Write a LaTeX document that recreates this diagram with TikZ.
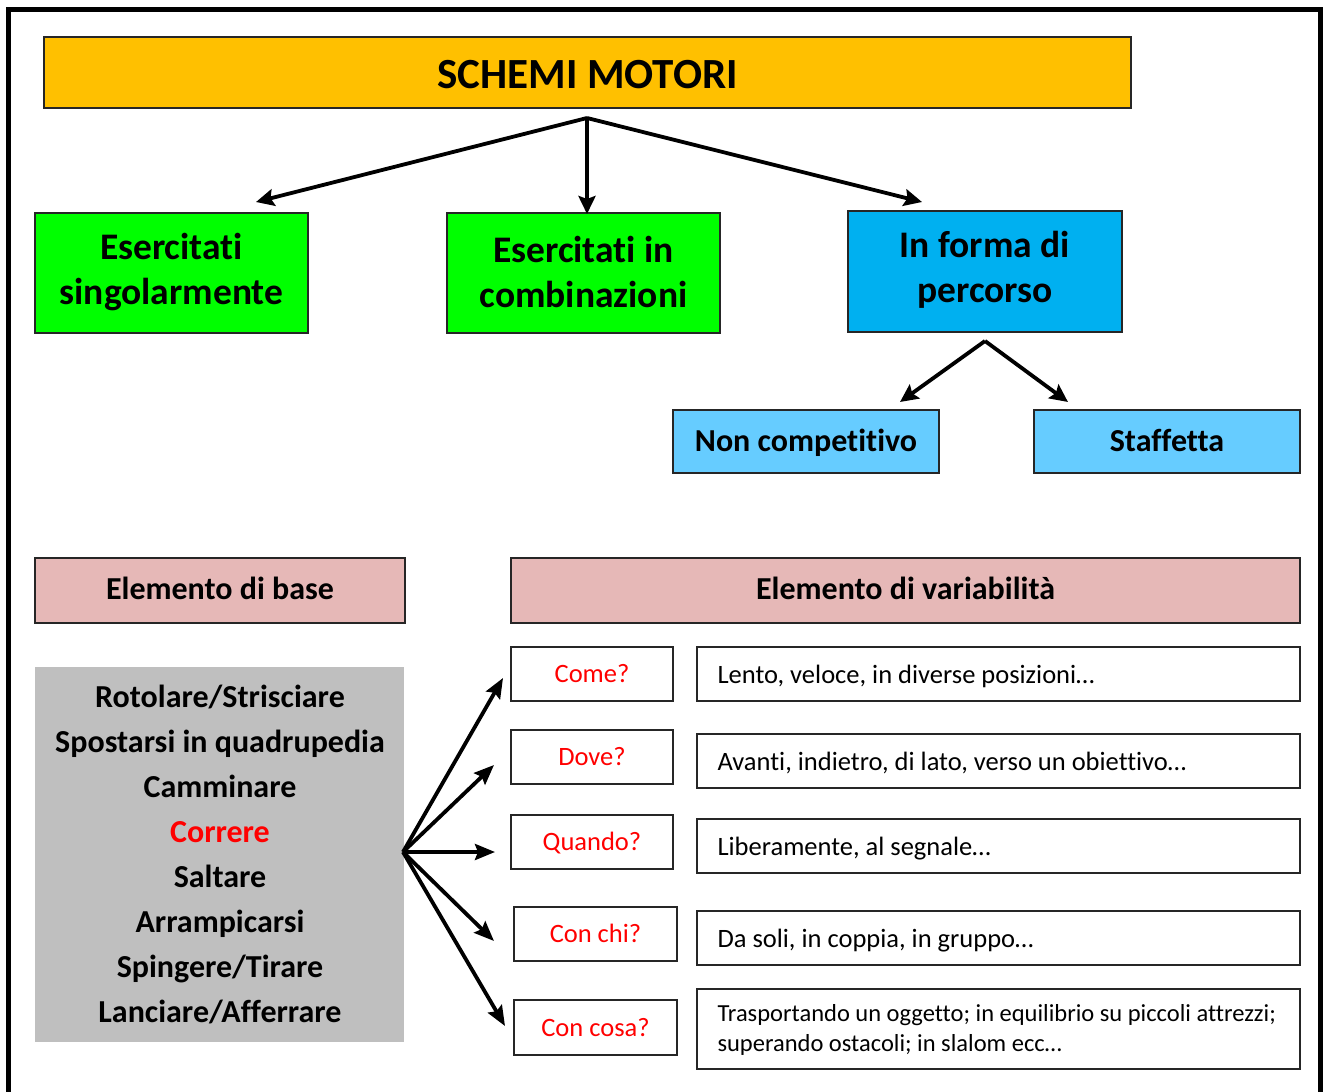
\documentclass[tikz,border=0pt]{standalone}
\usepackage{fontspec}
\setmainfont{Carlito}[RawFeature=-liga]
\usetikzlibrary{arrows.meta}
\definecolor{orangeA}{HTML}{FFC000}
\definecolor{greenA}{HTML}{00FF00}
\definecolor{blueA}{HTML}{00B0F0}
\definecolor{blueB}{HTML}{66CCFF}
\definecolor{pinkA}{HTML}{E6B8B7}
\definecolor{grayA}{HTML}{BFBFBF}
\definecolor{edgeA}{HTML}{262626}
\begin{document}
\begin{tikzpicture}[x=1pt,y=-1pt,
  box/.style={draw=edgeA,line width=1.3pt},
  big/.style={font=\fontsize{37.5}{45}\selectfont\bfseries,align=center},
  mid/.style={font=\fontsize{32}{38}\selectfont\bfseries,align=center,text height=20pt,text depth=0pt},
  qtext/.style={font=\fontsize{26.5}{30}\selectfont,text=red,text height=16pt,text depth=0pt},
  atext/.style={anchor=west,font=\fontsize{26.5}{30}\selectfont,text height=16pt,text depth=0pt},
  arr/.style={line width=3.8pt,-{Stealth[length=18pt,width=17pt,inset=3pt]}},
  fan/.style={line width=3.8pt,-{Stealth[length=20pt,width=16pt,inset=3pt]}}]
\useasboundingbox (0,0) rectangle (1326,1092);
\fill[white] (0,0) rectangle (1326,1092);
% outer frame, open at the bottom
\draw[line width=5pt] (8.5,1092) -- (8.5,9.5) -- (1320,9.5) -- (1320,1092);

% title
\draw[box,fill=orangeA] (44,37) rectangle (1131,108);
\node (title) at (587.5,75) {\fontsize{43}{50}\selectfont\bfseries SCHEMI MOTORI};
\coordinate (root) at (587,118);

% first level
\draw[box,fill=greenA] (35,213) rectangle (308,333);
\node[big] (sing) at (171.5,272) {Esercitati\\singolarmente};
\draw[box,fill=greenA] (447,213) rectangle (720,333);
\node[big] (comb) at (583.5,272) {Esercitati in\\combinazioni};
\draw[box,fill=blueA] (848,211) rectangle (1122,332);
\node[big] (perc) at (985,270) {In forma di\\percorso};
\coordinate (percb) at (985,341);

\coordinate (sA) at (256,202);
\coordinate (cA) at (587,214);
\coordinate (pA) at (922,202);
\draw[arr] (root) -- (sA);
\draw[arr] (root) -- (cA);
\draw[arr] (root) -- (pA);

% second level
\draw[box,fill=blueB] (673,410) rectangle (939,473);
\node[mid] (noncomp) at (806,441.5) {Non competitivo};
\draw[box,fill=blueB] (1034,410) rectangle (1300,473);
\node[mid] (staff) at (1167,441.5) {Staffetta};
\coordinate (nA) at (900,402);
\coordinate (stA) at (1068,402);
\draw[arr] (percb) -- (nA);
\draw[arr] (percb) -- (stA);

% headers
\draw[box,fill=pinkA] (35,558) rectangle (405,623);
\node[mid] (base) at (220,589.5) {Elemento di base};
\draw[box,fill=pinkA] (511,558) rectangle (1300,623);
\node[mid] (var) at (905.5,589.5) {Elemento di variabilità};

% list of basic motor patterns
\fill[grayA] (35,667) rectangle (404,1042);
\begin{scope}[every node/.style={mid}]
\node (l1) at (220,697) {Rotolare/Strisciare};
\node (l2) at (220,742) {Spostarsi in quadrupedia};
\node (l3) at (220,787) {Camminare};
\node[text=red] (l4) at (220,832) {Correre};
\node (l5) at (220,877) {Saltare};
\node (l6) at (220,922) {Arrampicarsi};
\node (l7) at (220,967) {Spingere/Tirare};
\node (l8) at (220,1012) {Lanciare/Afferrare};
\end{scope}
\coordinate (hub) at (403,852);

% questions
\draw[box] (511,647) rectangle (673,701);
\node[qtext] (q1) at (592,674) {Come?};
\draw[box] (511,730) rectangle (673,784);
\node[qtext] (q2) at (592,757) {Dove?};
\draw[box] (511,815) rectangle (673,869);
\node[qtext] (q3) at (592,842) {Quando?};
\draw[box] (514,907) rectangle (677,961);
\node[qtext] (q4) at (595.5,934) {Con chi?};
\draw[box] (514,1000) rectangle (677,1055);
\node[qtext] (q5) at (595.5,1028) {Con cosa?};

\coordinate (a1) at (503,678);
\coordinate (a2) at (494,765);
\coordinate (a3) at (495,852);
\coordinate (a4) at (494,941);
\coordinate (a5) at (505,1026);
\foreach \t in {a1,a2,a3,a4,a5} \draw[fan] (hub) -- (\t);

% answers
\draw[box] (697,647) rectangle (1300,701);
\node[atext] (r1) at (714,675) {Lento, veloce, in diverse posizioni…};
\draw[box] (697,734) rectangle (1300,788);
\node[atext] (r2) at (714,762) {Avanti, indietro, di lato, verso un obiettivo…};
\draw[box] (697,819) rectangle (1300,873);
\node[atext] (r3) at (714,847) {Liberamente, al segnale…};
\draw[box] (697,911) rectangle (1300,965);
\node[atext] (r4) at (714,939) {Da soli, in coppia, in gruppo…};
\draw[box] (697,989) rectangle (1300,1069);
\node[anchor=west,align=left,font=\fontsize{24.5}{29.5}\selectfont] (r5) at (714,1030) {Trasportando un oggetto; in equilibrio su piccoli attrezzi;\\superando ostacoli; in slalom ecc…};
\end{tikzpicture}
\end{document}
